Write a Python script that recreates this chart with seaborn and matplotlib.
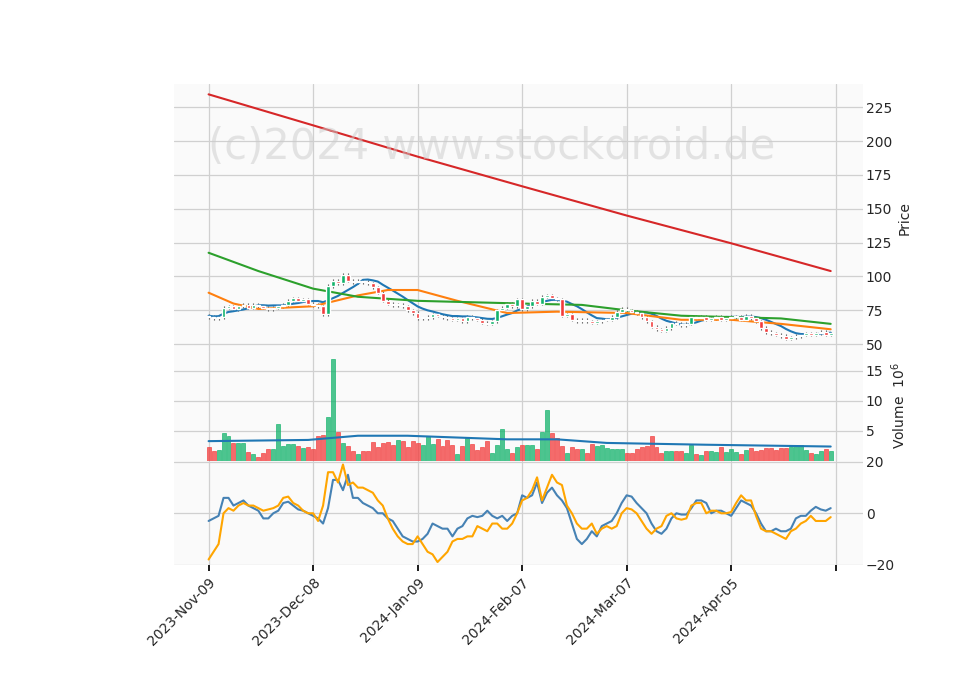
import numpy as np
import pandas as pd
import matplotlib
matplotlib.use("Agg")
import matplotlib.pyplot as plt
import seaborn as sns

tick_labels = ["2023-Nov-09", "2023-Dec-08", "2024-Jan-09", "2024-Feb-07", "2024-Mar-07", "2024-Apr-05", ""]
tick_idx = [0, 21, 42, 63, 84, 105, 126]

closes = [70,69,70,77,78,76,78,79,77,79,78,77,76,77,78,79,82,84,82,83,80,
          79,78,72,93,97,95,101,97,96,97,96,95,92,88,82,80,79,79,78,75,73,
          69,69,70,72,71,70,69,68,69,67,70,69,68,66,65,67,75,77,80,78,83,
          76,78,82,80,85,86,84,83,71,72,68,67,68,67,66,67,68,68,70,74,76,
          75,74,73,70,67,63,61,60,62,66,65,64,65,70,69,70,68,69,70,68,69,
          70,70,68,71,69,67,62,59,58,57,56,54,55,56,57,58,57,58,59,57,58]
opens = [71] + closes[:-1]

volume = [2.3,1.6,1.9,4.7,4.2,3.0,3.0,3.0,1.5,1.2,0.6,1.4,2.0,2.0,6.2,2.5,2.9,2.9,2.5,2.2,2.4,
          2.0,4.1,4.4,7.3,17.0,4.8,3.0,2.5,1.6,1.2,1.7,1.7,3.2,2.4,3.0,3.2,2.6,3.5,3.3,2.4,3.3,
          3.0,2.6,4.2,2.9,3.7,2.5,3.5,2.7,1.2,2.5,3.9,2.8,1.8,2.3,3.3,1.4,2.7,5.3,2.0,1.4,2.3,
          2.7,2.6,2.6,2.0,4.8,8.5,4.6,3.9,2.5,1.3,2.4,2.0,2.0,1.4,2.8,2.5,2.7,2.2,2.0,2.0,2.0,
          1.3,1.4,2.0,2.4,2.5,4.2,2.3,1.3,1.7,1.7,1.6,1.6,1.3,2.6,1.2,1.0,1.6,1.6,1.5,2.3,1.5,
          2.0,1.5,1.2,1.8,2.2,1.6,1.9,2.2,2.2,1.8,2.2,2.2,2.4,2.6,2.6,1.9,1.4,1.1,1.7,2.0,1.6]

osc_blue = [-3,-2,-1,6,6,3,4,5,3,2,1,-2,-2,0,1,4,4.5,3,1.5,1,0,
            -1,-2,-4,2,13,13,9,15,6,6,4,3,2,0,0,-2,-3,-6,-9,-10,-11,
            -11,-10,-8,-4,-5,-6,-6,-9,-6,-5,-2,-1,-1.5,-1,1,-1,-2,-1,-3,-1,0,
            7,6,7,12,4,8,10,7,5,2,-4,-10,-12,-10,-7,-9,-5,-4,-3,0,4,
            7,6.5,4,2,0,-4,-7,-8,-6,-2,0,-0.5,-0.5,2,5,5,4,0,1,1,0,
            -1,2,5,4,3,0,-4,-7,-7,-6,-7,-7,-6,-2,-1,-1,1,2.5,1.5,1,2]
osc_orange = [-18,-15,-12,0,2,1,3,4,3,3,2,1,1.5,2,3,6,6.5,4,3,1,0,
              0,-3,3,16,16,12,19,11,12,10,10,9,8,5,3,-2,-6,-9,-11,-12,-12,
              -9,-12,-15,-16,-19,-17,-15,-11,-10,-10,-9,-9,-5,-6,-7,-4,-4,-6,-6,-4,0,
              5,6,9,14,5,10,15,12,11,3,0,-4,-6,-6,-4,-8,-6,-5,-6,-5,0,
              2,1.5,0,-3,-6,-8,-6,-5,-1,0,-2,-2.5,-2,3,4,4,0,1,1,0,0,
              0.5,4,7,5,5,-1,-6,-7,-7,-8,-9,-10,-7,-6,-4,-3,-1,-3,-3,-3,-1.5]

ma_red_idx = [0, 21, 42, 63, 84, 105, 125]
ma_red = [234.5, 211.6, 188.5, 166.6, 145.0, 124.5, 104.0]
ma_green_idx = [0, 10, 21, 30, 42, 63, 75, 84, 95, 105, 115, 125]
ma_green = [117.5, 104, 91, 85, 82, 80, 79, 75, 71, 70, 69, 65]
ma_orange_idx = [0, 5, 10, 21, 30, 36, 42, 50, 60, 70, 84, 95, 105, 115, 125]
ma_orange = [88, 80, 76, 78, 86, 90, 90, 82, 73, 74, 73, 68, 68, 65, 61]
vol_ma_idx = [0, 20, 30, 40, 60, 70, 80, 100, 125]
vol_ma = [3.3, 3.5, 4.2, 4.2, 3.6, 3.6, 3.0, 2.7, 2.4]

n = len(closes)
x = np.arange(n)
sns.set_theme(style="whitegrid")
fig = plt.figure(figsize=(9.6, 6.9), dpi=100)
axp = fig.add_axes([0.181, 0.491, 0.718, 0.387])
axv = fig.add_axes([0.181, 0.332, 0.718, 0.159], sharex=axp)
axo = fig.add_axes([0.181, 0.181, 0.718, 0.151], sharex=axp)

up_c, dn_c = "#13b36b", "#f23b3b"
cols = [up_c if c >= o else dn_c for o, c in zip(opens, closes)]
for ax in (axp, axv, axo):
    ax.set_facecolor("#fafafa")
    ax.grid(True, color="#d0d0d0", linewidth=0.9)
    for s in ax.spines.values():
        s.set_visible(False)
    ax.yaxis.tick_right()
    ax.yaxis.set_label_position("right")
    ax.tick_params(axis="y", labelsize=10, length=0, pad=2)

for i in range(n):
    o, c = opens[i], closes[i]
    lo, hi = min(o, c), max(o, c)
    axp.vlines(i, lo - 1.2, hi + 1.2, color="#555555", linewidth=0.8, zorder=2)
    axp.bar(i, max(hi - lo, 0.8), bottom=lo, width=0.75, color=cols[i], zorder=3)
sns.lineplot(x=pd.Series(x), y=pd.Series(closes).rolling(8, min_periods=1).mean() + 1,
             ax=axp, color="#1f77b4", linewidth=1.5)
sns.lineplot(x=ma_orange_idx, y=ma_orange, ax=axp, color="#ff7f0e", linewidth=1.5)
sns.lineplot(x=ma_green_idx, y=ma_green, ax=axp, color="#2ca02c", linewidth=1.5)
sns.lineplot(x=ma_red_idx, y=ma_red, ax=axp, color="#d62728", linewidth=1.5)
axp.set_ylim(44.8, 242)
axp.set_yticks([50, 75, 100, 125, 150, 175, 200, 225])
axp.set_ylabel("Price", fontsize=10)
axp.text(0.05, 0.72, "(c)2024 www.stockdroid.de", transform=axp.transAxes,
         fontsize=30, color="#cccccc", alpha=0.5)

axv.bar(x, volume, width=0.8, color=cols, alpha=0.75, edgecolor=cols, linewidth=0.6)
sns.lineplot(x=vol_ma_idx, y=vol_ma, ax=axv, color="#1f77b4", linewidth=1.5)
axv.set_ylim(0, 18.3)
axv.set_yticks([5, 10, 15])
axv.set_ylabel("Volume  $10^6$", fontsize=10)

sns.lineplot(x=x, y=osc_blue, ax=axo, color="#4682b4", linewidth=1.5)
sns.lineplot(x=x, y=osc_orange, ax=axo, color="#ffa500", linewidth=1.5)
axo.set_ylim(-20.2, 20.4)
axo.set_yticks([-20, 0, 20])

axp.set_xlim(-7, 131.5)
axo.set_xticks(tick_idx)
axo.set_xticklabels(tick_labels, rotation=45, ha="right", rotation_mode="anchor", fontsize=10)
axo.tick_params(axis="x", length=4, color="black", bottom=True, labelsize=10)
plt.setp(axp.get_xticklabels(), visible=False)
plt.setp(axv.get_xticklabels(), visible=False)
for ax in (axp, axv):
    ax.tick_params(axis="x", length=0)
fig.savefig("out.png", dpi=100)
